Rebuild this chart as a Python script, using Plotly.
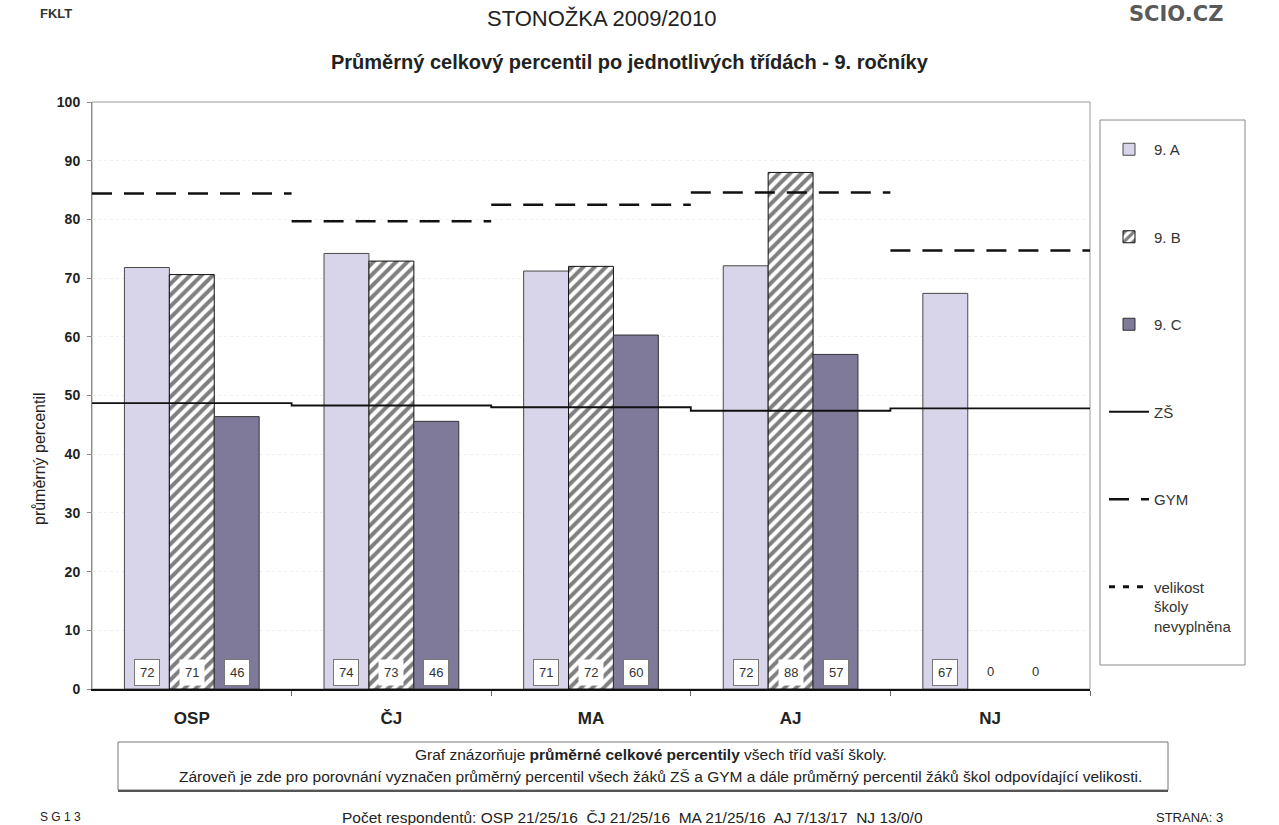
import plotly.graph_objects as go

# ---------------- data ----------------
categories = ["OSP", "ČJ", "MA", "AJ", "NJ"]
class_a = [71.8, 74.2, 71.2, 72.1, 67.4]   # 9. A
class_b = [70.6, 72.9, 72.0, 88.0, 0]      # 9. B
class_c = [46.4, 45.6, 60.3, 57.0, 0]      # 9. C
zs_avg = [48.7, 48.3, 48.0, 47.4, 47.8]    # ZŠ
gym_avg = [84.4, 79.7, 82.5, 84.6, 74.7]   # GYM
y_ticks = [0, 10, 20, 30, 40, 50, 60, 70, 80, 90, 100]
respondents = ["OSP 21/25/16", "ČJ 21/25/16", "MA 21/25/16", "AJ 7/13/17", "NJ 13/0/0"]

# ---------------- layout helpers ----------------
W, H = 1279, 825
L, R, T, B = 92, 1090, 102, 689


def px(x):
    return (x - L) / (R - L)


def py(y):
    return (B - y) / (B - T)


FONT = "Liberation Sans, Arial, sans-serif"
xs = list(range(len(categories)))
bw = 0.225


def line_widths(vals, w):
    return [w if v > 0 else 0 for v in vals]


fig = go.Figure()

fig.add_trace(go.Bar(
    x=xs, y=class_a, width=bw, offset=-1.5 * bw, name="9. A", legendgroup="a",
    marker=dict(color="#d8d4e9", line=dict(color="#4a4a4a", width=line_widths(class_a, 1))),
))
fig.add_trace(go.Bar(
    x=xs, y=class_b, width=bw, offset=-0.5 * bw, name="9. B", legendgroup="b",
    marker=dict(color="white", line=dict(color="#111", width=line_widths(class_b, 1)),
                pattern=dict(shape="/", fgcolor="#000", bgcolor="white", size=8, solidity=0.5)),
))
fig.add_trace(go.Bar(
    x=xs, y=class_c, width=bw, offset=0.5 * bw, name="9. C", legendgroup="c",
    marker=dict(color="#7f799a", line=dict(color="#333", width=line_widths(class_c, 1))),
))

# ZŠ step line
zx = [i - 0.5 for i in xs] + [xs[-1] + 0.5]
zy = zs_avg + [zs_avg[-1]]
fig.add_trace(go.Scatter(
    x=zx, y=zy, mode="lines", line=dict(color="#111", width=1.8, shape="hv"),
    name="ZŠ", legendgroup="z",
))

# GYM dashed segments
gx, gy = [], []
for i, v in zip(xs, gym_avg):
    gx += [i - 0.5, i + 0.5, None]
    gy += [v, v, None]
fig.add_trace(go.Scatter(
    x=gx, y=gy, mode="lines", line=dict(color="#111", width=2.5, dash="20px,12px"),
    name="GYM", legendgroup="g", connectgaps=False,
))

# legend-only series (not filled)
fig.add_trace(go.Scatter(
    x=[None], y=[None], mode="lines", line=dict(color="#111", width=3, dash="6px,8px"),
    name="velikost<br>školy<br>nevyplněna", legendgroup="v",
))

annotations = []

# value labels at bar bottoms
for series, off, boxed in ((class_a, -bw, "a"), (class_b, 0.0, "b"), (class_c, bw, "c")):
    for i, v in zip(xs, series):
        label = f"{v:.0f}"
        if v == 0:
            annotations.append(dict(x=i + off, y=0, xref="x", yref="y", text=label,
                                    showarrow=False, yanchor="bottom", yshift=8,
                                    font=dict(family=FONT, size=13, color="#333")))
        else:
            annotations.append(dict(x=i + off, y=0, xref="x", yref="y", text=label,
                                    showarrow=False, yanchor="bottom", yshift=3,
                                    bgcolor="white",
                                    bordercolor="#777" if boxed != "b" else "rgba(0,0,0,0)",
                                    borderwidth=1, borderpad=5,
                                    font=dict(family=FONT, size=13, color="#333")))


def page_text(x, y, text, size=12, xanchor="center", **kw):
    d = dict(x=px(x), y=py(y), xref="paper", yref="paper", text=text, showarrow=False,
             xanchor=xanchor, yanchor="middle",
             font=dict(family=kw.pop("family", FONT), size=size, color=kw.pop("color", "#222")))
    d.update(kw)
    return d


annotations += [
    page_text(602, 18, "STONOŽKA 2009/2010", size=22),
    page_text(630, 62, "<b>Průměrný celkový percentil po jednotlivých třídách - 9. ročníky</b>", size=20),
    page_text(38, 13, "<b>FKLT</b>", size=13, xanchor="left", color="#333"),
    page_text(1225, 14, "<b>SCIO.CZ</b>", size=21, xanchor="right", color="#5a5a5a",
              family="DejaVu Sans, sans-serif"),
    page_text(40, 459, "průměrný percentil", size=16, textangle=-90),
    page_text(651, 754, "Graf znázorňuje <b>průměrné celkové percentily</b> všech tříd vaší školy.", size=15.5),
    page_text(660, 776, "Zároveň je zde pro porovnání vyznačen průměrný percentil všech žáků ZŠ a GYM a dále průměrný percentil žáků škol odpovídající velikosti.", size=15.5),
    page_text(38, 817, "S G 1 3", size=12, xanchor="left"),
    page_text(632, 817, "Počet respondentů: " + "  ".join(respondents), size=15.5),
    page_text(1225, 817, "STRANA: 3", size=13, xanchor="right"),
]

shapes = [
    # plot frame
    dict(type="rect", xref="paper", yref="paper", x0=0, x1=1, y0=0, y1=1,
         line=dict(color="#9a9a9a", width=1), layer="below"),
    # legend frame
    dict(type="rect", xref="paper", yref="paper", x0=px(1100), x1=px(1245), y0=py(665), y1=py(120),
         line=dict(color="#8a8a8a", width=1)),
    # caption frame
    dict(type="rect", xref="paper", yref="paper", x0=px(118), x1=px(1168), y0=py(790), y1=py(742),
         line=dict(color="#777", width=1)),
    dict(type="line", xref="paper", yref="paper", x0=px(118), x1=px(1168), y0=py(791), y1=py(791),
         line=dict(color="#555", width=2)),
]

fig.update_layout(
    width=W, height=H,
    margin=dict(l=L, r=W - R, t=T, b=H - B),
    paper_bgcolor="white", plot_bgcolor="white",
    barmode="overlay",
    showlegend=True,
    legend=dict(x=px(1104), y=py(133), xanchor="left", yanchor="top",
                font=dict(family=FONT, size=15, color="#333"),
                tracegroupgap=65, traceorder="grouped", valign="top",
                itemwidth=40, bgcolor="rgba(0,0,0,0)"),
    annotations=annotations,
    shapes=shapes,
    font=dict(family=FONT),
)

fig.update_yaxes(range=[0, 100], tickvals=y_ticks, ticks="outside", ticklen=4, tickcolor="#888",
                 tickfont=dict(family=FONT, size=14, color="#222", weight="bold"),
                 showline=True, linecolor="#888", linewidth=1,
                 showgrid=True, gridcolor="#eeeeee", griddash="dot", zeroline=False,
                 ticklabelstandoff=4)
fig.update_xaxes(range=[-0.5, 4.5], tickvals=xs, ticktext=categories, ticks="",
                 tickfont=dict(family=FONT, size=17, color="#222", weight="bold"),
                 showline=True, linecolor="#111", linewidth=1.5, showgrid=False, zeroline=False,
                 ticklabelstandoff=13,
                 minor=dict(tickvals=[i + 0.5 for i in xs], ticks="outside", ticklen=5, tickcolor="#666"))

fig.write_html("out.html", config={"displayModeBar": False},
               post_script="document.body.style.margin='0';")
